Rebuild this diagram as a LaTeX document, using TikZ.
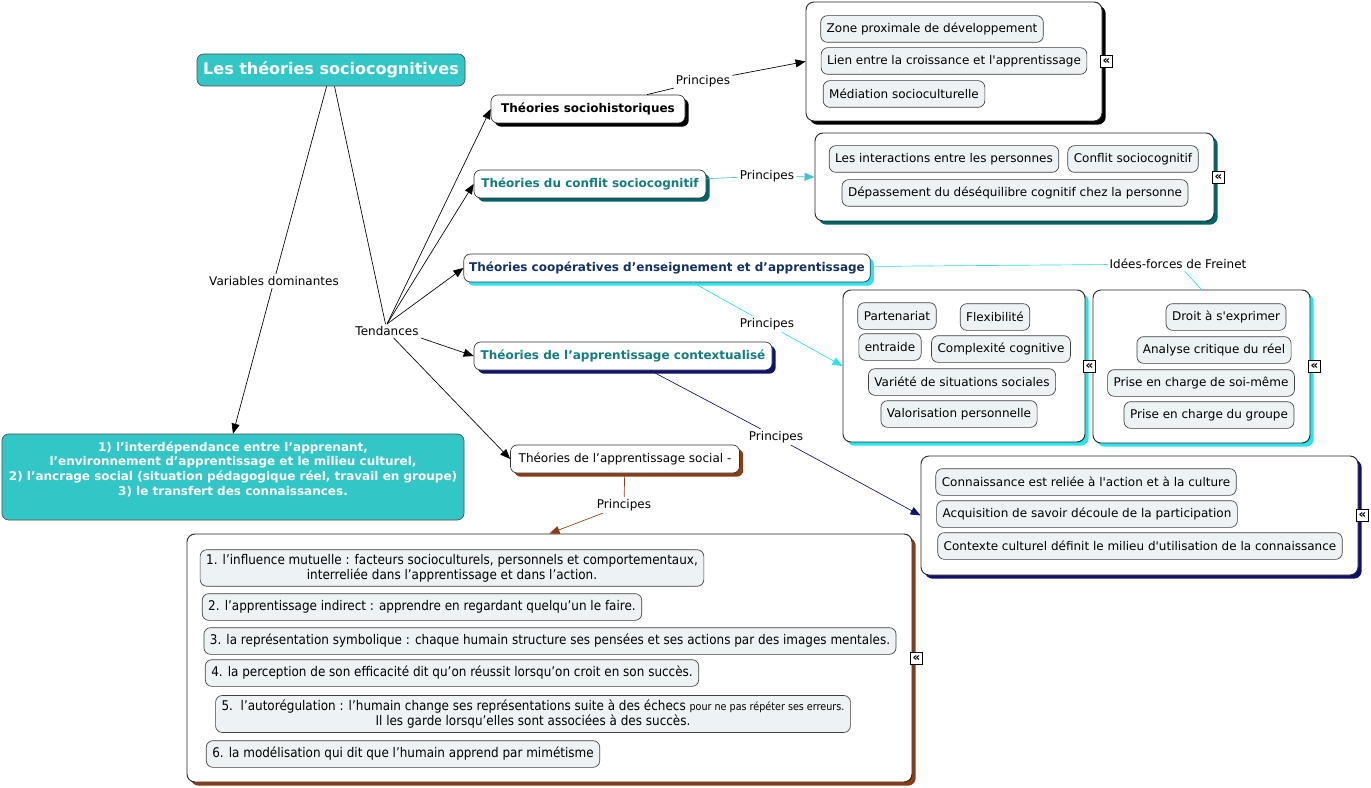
\documentclass[tikz,border=0pt]{standalone}
\usepackage{fontspec}
\setmainfont{DejaVu Sans}
\newfontfamily\narrowfont[FakeStretch=0.9]{DejaVu Sans}
\usetikzlibrary{arrows.meta,shadows,fit,positioning}

\definecolor{tealfill}{RGB}{51,198,198}
\definecolor{tealtext}{RGB}{20,125,125}
\definecolor{tealshadow}{RGB}{0,100,100}
\definecolor{tealline}{RGB}{70,195,200}
\definecolor{navytext}{RGB}{20,50,100}
\definecolor{cyanline}{RGB}{40,228,238}
\definecolor{navy}{RGB}{16,16,112}
\definecolor{rust}{RGB}{140,60,20}
\definecolor{pillgray}{RGB}{237,242,244}

\newcommand{\sq}{\textquotesingle}

\tikzset{
  tealbox/.style={draw=black!70, fill=tealfill, rounded corners=5pt, text=white},
  theory/.style={draw=black!80, fill=white, rounded corners=5pt, minimum height=21pt, inner xsep=4pt, font=\fontsize{9}{11}\selectfont\bfseries},
  lift/.style={drop shadow={shadow xshift=2.8pt, shadow yshift=-2.8pt, fill=#1, opacity=1}},
  pill/.style={draw=black!75, fill=pillgray, rounded corners=5pt, minimum height=20pt, inner xsep=4.5pt, font=\fontsize{9}{11}\selectfont},
  longpill/.style={pill, align=center, font=\narrowfont\fontsize{10}{11}\selectfont},
  panel/.style={draw=black!85, fill=white, rounded corners=6pt, inner sep=0pt, line width=0.7pt},
  linker/.style={inner sep=1.5pt, font=\fontsize{9}{11}\selectfont},
  collapse/.style={draw, fill=white, inner sep=0pt, minimum size=9pt, font=\fontsize{9}{9}\selectfont\bfseries},
  arr/.style={-{Triangle[length=7.5pt,width=6pt]}},
}

\begin{document}
\begin{tikzpicture}[x=0.75pt, y=-0.75pt, line width=0.5pt]
  \useasboundingbox (0,0) rectangle (1371,788);

  % Main concept and dominant variables
  \node[tealbox, font=\fontsize{12}{14}\selectfont\bfseries, minimum width=201pt, minimum height=24pt] (title) at (331,70) {Les théories sociocognitives};
  \node[tealbox, align=center, font=\fontsize{9}{11}\selectfont\bfseries, minimum width=346.5pt, minimum height=64.5pt] (dom) at (233,477)
    {1) l’interdépendance entre l’apprenant,\\ l’environnement d’apprentissage et le milieu culturel,\\ 2) l’ancrage social (situation pédagogique réel, travail en groupe)\\ 3) le transfert des connaissances.\\[2pt]\mbox{}};

  \node[linker] (var) at (274,281) {Variables dominantes};
  \node[linker] (tend) at (387,331) {Tendances};

  % Theories
  \node[theory, lift=black, minimum width=145.5pt] (soh) at (588,109) {Théories sociohistoriques};
  \node[theory, lift=tealshadow, text=tealtext, minimum width=174pt] (conf) at (590,184) {Théories du conflit sociocognitif};
  \node[theory, lift=cyanline, text=navytext, minimum width=304.5pt] (coop) at (667,268) {Théories coopératives d’enseignement et d’apprentissage};
  \node[theory, lift=navy, text=tealtext, minimum width=223.5pt] (ctx) at (623,356) {Théories de l’apprentissage contextualisé};
  \node[theory, lift=rust, font=\fontsize{9}{11}\selectfont, minimum width=171.75pt] (socl) at (625,459) {Théories de l’apprentissage social -};

  % Panels
  \node[panel, lift=black, fit={(806,2) (1102,121)}] (hist) {};
  \node[panel, lift=tealshadow, fit={(815,133) (1214,221)}] (conflit) {};
  \node[panel, lift=cyanline, fit={(843,290) (1085,442)}] (coopp) {};
  \node[panel, lift=cyanline, fit={(1093,290) (1310,443)}] (freinet) {};
  \node[panel, lift=navy, fit={(921,456) (1358,575)}] (context) {};
  \node[panel, lift=rust, fit={(187,534) (912,782)}] (social) {};

  % Collapse marks
  \node[collapse] (histc) at ([xshift=3pt]hist.east) {«};
  \node[collapse] (conflitc) at ([xshift=3pt]conflit.east) {«};
  \node[collapse] (coopc) at ([xshift=3pt]coopp.east) {«};
  \node[collapse] (freinetc) at ([xshift=3pt]freinet.east) {«};
  \node[collapse] (contextc) at ([xshift=3pt]context.east) {«};
  \node[collapse] (socialc) at ([xshift=3pt]social.east) {«};

  % Sociohistorical principles
  \node[pill] (zpd) at (932,29) {Zone proximale de développement};
  \node[pill] (lien) at (954,61) {Lien entre la croissance et l\sq apprentissage};
  \node[pill] (medi) at (904,94) {Médiation socioculturelle};

  % Conflict principles
  \node[pill] (inter) at (944,159) {Les interactions entre les personnes};
  \node[pill] (csc) at (1133,159) {Conflit sociocognitif};
  \node[pill] (depas) at (1015,193) {Dépassement du déséquilibre cognitif chez la personne};

  % Cooperative principles
  \node[pill] (part) at (897,316) {Partenariat};
  \node[pill] (flex) at (995,317) {Flexibilité};
  \node[pill] (entr) at (890,347) {entraide};
  \node[pill] (compl) at (1001,349) {Complexité cognitive};
  \node[pill] (vari) at (962,382) {Variété de situations sociales};
  \node[pill] (valo) at (959,414) {Valorisation personnelle};

  % Freinet
  \node[pill] (droit) at (1226,317) {Droit à s\sq exprimer};
  \node[pill] (anal) at (1214,350) {Analyse critique du réel};
  \node[pill] (soim) at (1201,383) {Prise en charge de soi-même};
  \node[pill] (grou) at (1209,415) {Prise en charge du groupe};

  % Contextual principles
  \node[pill] (reli) at (1086,482) {Connaissance est reliée à l\sq action et à la culture};
  \node[pill] (acqu) at (1087,514) {Acquisition de savoir découle de la participation};
  \node[pill] (cult) at (1140,546) {Contexte culturel définit le milieu d\sq utilisation de la connaissance};

  % Social learning principles
  \node[longpill] (s1) at (452,568) {1. l’influence mutuelle : facteurs socioculturels, personnels et comportementaux,\\ interreliée dans l’apprentissage et dans l’action.};
  \node[longpill] (s2) at (422,607) {2. l’apprentissage indirect : apprendre en regardant quelqu’un le faire.};
  \node[longpill] (s3) at (550,641) {3. la représentation symbolique : chaque humain structure ses pensées et ses actions par des images mentales.};
  \node[longpill] (s4) at (452,673) {4. la perception de son efficacité dit qu’on réussit lorsqu’on croit en son succès.};
  \node[longpill] (s5) at (533,714) {5.\ \ l’autorégulation : l’humain change ses représentations suite à des échecs {\fontsize{8}{10}\selectfont pour ne pas répéter ses erreurs.}\\ Il les garde lorsqu’elles sont associées à des succès.};
  \node[longpill] (s6) at (403,754) {6. la modélisation qui dit que l’humain apprend par mimétisme};

  % Linking phrases
  \node[linker] (p1) at (703,81) {Principes};
  \node[linker] (p2) at (767,176) {Principes};
  \node[linker] (idf) at (1178,264) {Idées-forces de Freinet};
  \node[linker] (p3) at (767,324) {Principes};
  \node[linker] (p4) at (776,437) {Principes};
  \node[linker] (p5) at (624,505) {Principes};

  % Connectors
  \draw (title) -- (var);
  \draw[arr] (var) -- (dom.north);
  \draw (title) -- (tend);
  \draw[arr] (tend.north) -- (soh.west);
  \draw[arr] (tend.north) -- (conf.west);
  \draw[arr] (tend.north) -- (coop.west);
  \draw[arr] (tend.south east) -- (ctx.west);
  \draw[arr] (tend) -- (socl.west);

  \draw (soh) -- (p1);
  \draw[arr] (p1) -- (hist.west);
  \draw[tealline] (conf) -- (p2);
  \draw[tealline, arr] (p2) -- (conflit.west);
  \draw[cyanline] (coop) -- (idf);
  \draw[cyanline] (idf) -- (freinet.north);
  \draw[cyanline] (coop) -- (p3);
  \draw[cyanline, arr] (p3) -- (coopp.west);
  \draw[navy] (ctx) -- (p4);
  \draw[navy, arr] (p4) -- (context.west);
  \draw[rust] (socl) -- (p5);
  \draw[rust, arr] (p5) -- (social.north);
\end{tikzpicture}
\end{document}
